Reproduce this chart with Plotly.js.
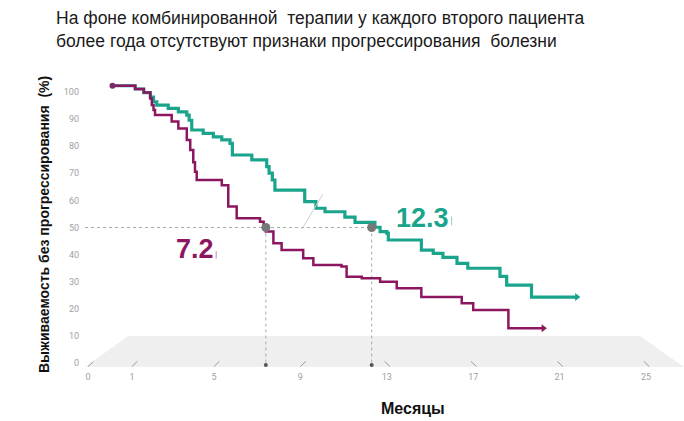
<!DOCTYPE html>
<html>
<head>
<meta charset="utf-8">
<script src="https://cdn.plot.ly/plotly-3.0.1.min.js"></script>
<style>html,body{margin:0;padding:0;background:#fff;}#chart{width:684px;height:421px;}</style>
</head>
<body>
<div id="chart"></div>
<script>
// ---- data ----
const tealMonths = [0.3, 1.35, 1.75, 2.05, 2.2, 2.35, 2.88, 3.35, 3.74, 3.85, 3.97, 4.5, 4.97, 5.36, 5.74, 5.85, 6.75, 7.44, 7.55, 7.7, 7.82, 9.2, 9.72, 10.14, 11.06, 11.53, 12.45, 12.69, 13.0, 13.07, 14.6, 15.15, 15.6, 16.25, 16.75, 18.24, 18.55, 19.7, 21.8];
const tealSurv   = [102.2, 101.0, 99.7, 98.0, 96.3, 95.1, 93.9, 92.6, 91.4, 89.5, 85.9, 84.7, 83.4, 82.3, 81.0, 76.7, 74.9, 72.4, 70.0, 67.5, 63.8, 59.5, 57.1, 55.8, 53.8, 51.9, 50.1, 48.5, 47.9, 45.4, 41.7, 40.5, 39.0, 36.8, 35.0, 32.0, 28.8, 24.4, 24.4];

const magMonths = [0.3, 1.35, 1.75, 2.05, 2.12, 2.2, 2.27, 3.04, 3.35, 3.74, 3.9, 4.04, 4.12, 4.2, 5.36, 5.66, 6.05, 7.13, 7.3, 7.4, 7.75, 8.13, 9.13, 9.6, 10.9, 11.14, 11.84, 12.69, 13.46, 14.6, 16.47, 17.0, 18.63, 20.25];
const magSurv   = [102.2, 101.0, 99.7, 97.5, 95.1, 93.3, 91.4, 89.0, 86.5, 82.2, 78.5, 74.0, 70.5, 67.5, 65.6, 57.7, 53.4, 52.1, 50.3, 48.5, 44.2, 41.7, 38.7, 36.2, 35.6, 31.9, 31.3, 30.0, 27.6, 24.4, 22.1, 19.6, 12.9, 12.9];

const medianPos    = [7.4, 12.3];       // where the median dots sit in the picture
const medianLevel  = 50;
const medianLabels = ['7.2', '12.3'];

const yTicks     = [0, 10, 20, 30, 40, 50, 60, 70, 80, 90, 100];
const xTickPos   = [-0.83, 1.2, 5, 9, 13, 17, 21, 25];
const xTickText  = ['0', '1', '5', '9', '13', '17', '21', '25'];

const titleText  = 'На фоне комбинированной  терапии у каждого второго пациента<br>более года отсутствуют признаки прогрессирования  болезни';
const yTitle     = 'Выживаемость без прогрессирования  (%)';
const xTitle     = 'Месяцы';

// ---- styles ----
const TEAL = '#1aa48b';
const MAG  = '#8c165f';
const GREY = '#9a9a9a';
const FONT = 'Liberation Sans, Arial, sans-serif';

const traces = [];

// dotted reference lines (drawn from medians)
traces.push({
  x: [-0.97, medianPos[1]], y: [medianLevel, medianLevel],
  mode: 'lines', line: {color: '#aaaaaa', width: 1, dash: 'dot'},
  hoverinfo: 'skip', showlegend: false
});
medianPos.forEach(m => {
  traces.push({
    x: [m, m], y: [medianLevel, -0.6],
    mode: 'lines', line: {color: '#aaaaaa', width: 1, dash: 'dot'},
    hoverinfo: 'skip', showlegend: false
  });
});

// step curves
traces.push({
  x: tealMonths, y: tealSurv, mode: 'lines', line: {shape: 'hv', color: TEAL, width: 3.2},
  showlegend: false
});
traces.push({
  x: magMonths, y: magSurv, mode: 'lines', line: {shape: 'hv', color: MAG, width: 2.5},
  showlegend: false
});

// start dot and end arrows
traces.push({
  x: [magMonths[0]], y: [magSurv[0]], mode: 'markers',
  marker: {symbol: 'circle', size: 6, color: '#7a2a6a'}, showlegend: false
});
traces.push({
  x: [tealMonths[tealMonths.length - 1]], y: [tealSurv[tealSurv.length - 1]], mode: 'markers',
  marker: {symbol: 'triangle-right', size: 7, color: TEAL}, showlegend: false
});
traces.push({
  x: [magMonths[magMonths.length - 1]], y: [magSurv[magSurv.length - 1]], mode: 'markers',
  marker: {symbol: 'triangle-right', size: 7, color: MAG}, showlegend: false
});

// median dots
traces.push({
  x: medianPos, y: medianPos.map(() => medianLevel), mode: 'markers',
  marker: {size: 9, color: '#777777'}, showlegend: false
});
traces.push({
  x: medianPos, y: medianPos.map(() => -0.6), mode: 'markers',
  marker: {size: 4, color: '#555555'}, showlegend: false
});

// shapes: 3D floor, slanted ticks, small artefacts
const shapes = [];
shapes.push({
  type: 'path', xref: 'x', yref: 'y', layer: 'below',
  path: 'M -0.97,-1.36 L 1.02,10.05 L 24.72,10.05 L 26.76,-1.36 Z',
  fillcolor: '#efefef', line: {width: 0}
});
xTickPos.forEach((p) => {
  const left = p < 11;
  shapes.push({
    type: 'line', xref: 'x', yref: 'y', layer: 'above',
    x0: left ? p : p + 0.15, y0: -1.2,
    x1: left ? p + 0.25 : p - 0.1, y1: 0.7,
    line: {color: GREY, width: 1}
  });
});
// faint leader line
shapes.push({type: 'line', xref: 'x', yref: 'y', x0: 9.07, y0: 49.4, x1: 10.04, y1: 62.3,
  line: {color: '#d0d0d0', width: 1}});
// thin bars after the median numbers
shapes.push({type: 'line', xref: 'x', yref: 'y', x0: 5.1, y0: 38.5, x1: 5.1, y1: 41.3,
  line: {color: MAG, width: 1}, opacity: 0.5});
shapes.push({type: 'line', xref: 'x', yref: 'y', x0: 16.0, y0: 50.8, x1: 16.0, y1: 54.0,
  line: {color: TEAL, width: 1}, opacity: 0.5});

// plot area: left 80, right 684, top 70, bottom 370
const PL = 80, PR = 684, PT = 70, PB = 370;
const px2x = px => (px - PL) / (PR - PL);
const py2y = py => (PB - py) / (PB - PT);

const annotations = [
  {x: 4.1, y: 42.2, xref: 'x', yref: 'y', text: '<b>' + medianLabels[0] + '</b>', showarrow: false,
   font: {family: FONT, size: 27, color: MAG}},
  {x: 14.66, y: 53.6, xref: 'x', yref: 'y', text: '<b>' + medianLabels[1] + '</b>', showarrow: false,
   font: {family: FONT, size: 27, color: TEAL}},
  {x: px2x(44), y: py2y(225), xref: 'paper', yref: 'paper', xanchor: 'center', yanchor: 'middle',
   text: '<b>' + yTitle + '</b>', textangle: -90, showarrow: false,
   font: {family: FONT, size: 14, color: '#111'}},
  {x: px2x(413), y: py2y(409), xref: 'paper', yref: 'paper', xanchor: 'center', yanchor: 'middle',
   text: '<b>' + xTitle + '</b>', showarrow: false,
   font: {family: FONT, size: 16, color: '#111'}},
  {x: px2x(54), y: py2y(6), xref: 'paper', yref: 'paper', xanchor: 'left', yanchor: 'top',
   align: 'left', text: titleText, showarrow: false,
   font: {family: FONT, size: 17.5, color: '#1a1a1a'}}
];

const layout = {
  width: 684, height: 421,
  margin: {l: PL, r: 684 - PR, t: PT, b: 421 - PB, pad: 0},
  paper_bgcolor: '#ffffff', plot_bgcolor: '#ffffff',
  xaxis: {
    range: [-1.204, 26.76], showgrid: false, zeroline: false, showline: false,
    tickmode: 'array', tickvals: xTickPos, ticktext: xTickText, ticks: '',
    tickfont: {family: 'Roboto, Liberation Sans, sans-serif', size: 9, color: '#a0a0a0'},
    fixedrange: true
  },
  yaxis: {
    range: [-2.47, 108.0], showgrid: false, zeroline: false, showline: false,
    tickmode: 'array', tickvals: yTicks, ticks: '',
    tickfont: {family: 'Roboto, Liberation Sans, sans-serif', size: 9, color: '#a0a0a0'},
    fixedrange: true
  },
  shapes: shapes,
  annotations: annotations,
  showlegend: false
};

Plotly.newPlot('chart', traces, layout, {displayModeBar: false, staticPlot: true});
</script>
</body>
</html>
